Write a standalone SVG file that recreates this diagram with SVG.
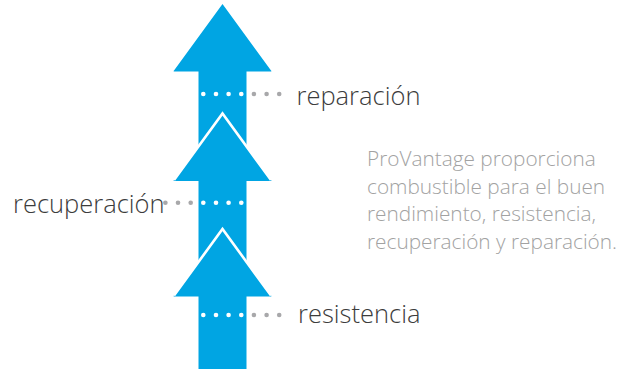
<svg xmlns="http://www.w3.org/2000/svg" width="635" height="369" viewBox="0 0 635 369">
  <style>
    .arrow { fill: #00a5e3; }
    .edge { fill: none; stroke: #ffffff; stroke-width: 2.6; stroke-linejoin: miter; }
    .dw { fill: #ffffff; }
    .dg { fill: #a8a8aa; }
    .label { font-family: "Open Sans", "Noto Sans", "DejaVu Sans", sans-serif; font-weight: 300; font-size: 25.5px; fill: #3c3c3c; }
    .para { font-family: "Open Sans", "Noto Sans", "DejaVu Sans", sans-serif; font-weight: 300; font-size: 20.8px; fill: #a2a2a2; }
  </style>
  <defs>
    <path id="arrowShape" d="M0,0 L48.5,66.5 Q49.5,67.5 48,67.5 L24,67.5 L24,155 L-24,155 L-24,67.5 L-48,67.5 Q-49.5,67.5 -48.5,66.5 Z"/>
  </defs>

  <g id="arrow-top">
    <use href="#arrowShape" class="arrow" transform="translate(222.5,4)"/>
  </g>
  <g id="arrow-middle">
    <use href="#arrowShape" class="arrow" transform="translate(222.5,113.5)"/>
    <polyline class="edge" points="174,180 222.5,113.5 271,180"/>
  </g>
  <g id="arrow-bottom">
    <path class="arrow" d="M222.5,229 L271,295.5 Q272,296.5 270.5,296.5 L246.5,296.5 L246.5,369 L198.5,369 L198.5,296.5 L174.5,296.5 Q173,296.5 174,295.5 Z"/>
    <polyline class="edge" points="174,295.5 222.5,229 271,295.5"/>
  </g>

  <g id="connectors">
    <g id="dots-reparacion">
      <circle class="dw" cx="203.3" cy="94" r="2.3"/>
      <circle class="dw" cx="216" cy="94" r="2.3"/>
      <circle class="dw" cx="228.6" cy="94" r="2.3"/>
      <circle class="dw" cx="241.3" cy="94" r="2.3"/>
      <circle class="dg" cx="253.9" cy="94" r="2.3"/>
      <circle class="dg" cx="266.6" cy="94" r="2.3"/>
      <circle class="dg" cx="279.2" cy="94" r="2.3"/>
    </g>
    <g id="dots-recuperacion">
      <circle class="dg" cx="165.4" cy="202.7" r="2.3"/>
      <circle class="dg" cx="178" cy="202.7" r="2.3"/>
      <circle class="dg" cx="190.7" cy="202.7" r="2.3"/>
      <circle class="dw" cx="203.3" cy="202.7" r="2.3"/>
      <circle class="dw" cx="216" cy="202.7" r="2.3"/>
      <circle class="dw" cx="228.6" cy="202.7" r="2.3"/>
      <circle class="dw" cx="241.3" cy="202.7" r="2.3"/>
    </g>
    <g id="dots-resistencia">
      <circle class="dw" cx="203.3" cy="315" r="2.3"/>
      <circle class="dw" cx="216" cy="315" r="2.3"/>
      <circle class="dw" cx="228.6" cy="315" r="2.3"/>
      <circle class="dw" cx="241.3" cy="315" r="2.3"/>
      <circle class="dg" cx="253.9" cy="315" r="2.3"/>
      <circle class="dg" cx="266.6" cy="315" r="2.3"/>
      <circle class="dg" cx="279.2" cy="315" r="2.3"/>
    </g>
  </g>

  <g id="label-reparacion">
    <text class="label" x="296.5" y="105">reparación</text>
  </g>
  <g id="label-recuperacion">
    <text class="label" x="13" y="212.7">recuperación</text>
  </g>
  <g id="label-resistencia">
    <text class="label" x="298" y="323.3">resistencia</text>
  </g>

  <g id="description">
    <text class="para" x="367" y="166">ProVantage proporciona</text>
    <text class="para" x="367" y="193.5">combustible para el buen</text>
    <text class="para" x="367" y="221">rendimiento, resistencia,</text>
    <text class="para" x="367" y="248.5">recuperación y reparación.</text>
  </g>
</svg>
